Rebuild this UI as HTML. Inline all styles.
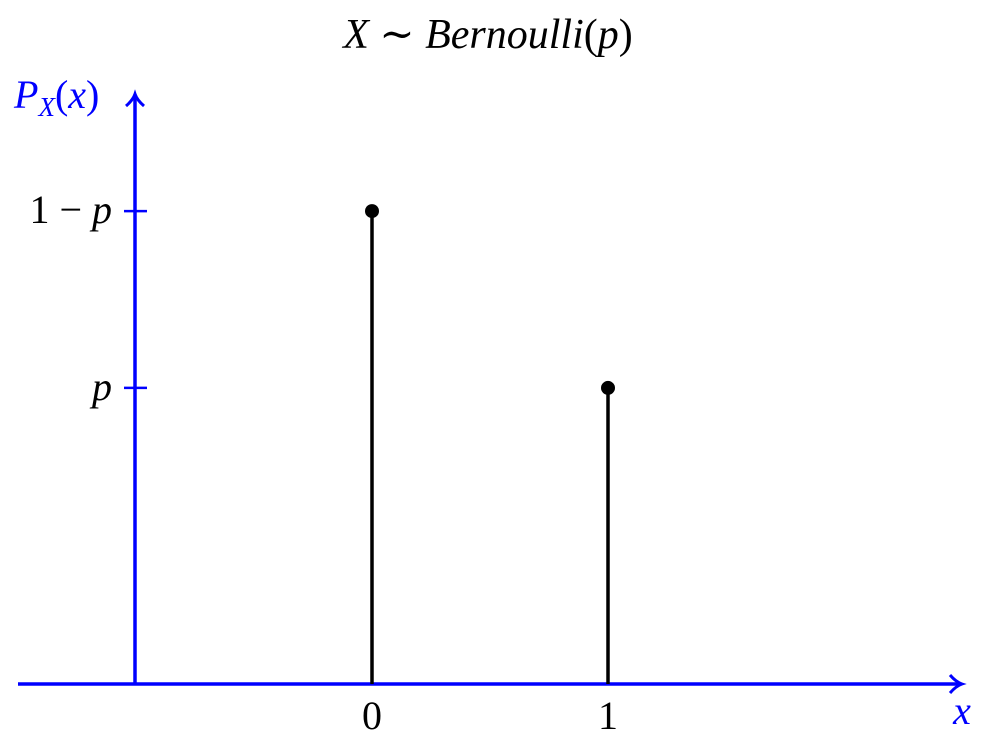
<!DOCTYPE html>
<html><head><meta charset="utf-8"><style>
html,body{margin:0;padding:0;background:#fff;}
svg text{font-family:"Liberation Serif","DejaVu Serif",serif;}
</style></head><body>
<svg width="988" height="741" viewBox="0 0 988 741">
<text x="488" y="48" text-anchor="middle" font-size="42" font-style="italic">X <tspan font-style="normal">∼</tspan> Bernoulli<tspan font-style="normal">(</tspan>p<tspan font-style="normal">)</tspan></text>
<g id="axes"></g>
<g id="marks"></g>
</svg>
<script>
const categories = [0, 1];
const probabilities = [0.615, 0.385];
const tickValues = [0.615, 0.385];
const tickLabels = ["1 − p", "p"];
const xTickLabels = ["0", "1"];

const NS = "http://www.w3.org/2000/svg";
function xs(v){ return 372 + v*236; }
function ys(v){ return 684 - v*769; }
function mk(tag, attrs, parent){
  const e = document.createElementNS(NS, tag);
  for (const k in attrs) e.setAttribute(k, attrs[k]);
  parent.appendChild(e); return e;
}
const axes = document.getElementById('axes');
const marks = document.getElementById('marks');
const blue = "#0000ff";

const xa = mk('line',{x1:18,y1:684,x2:960,y2:684,stroke:blue,'stroke-width':3.5},axes);


const xh = mk('path',{d:'M950 675 Q956 682 962 684 Q956 686 950 693',fill:'none',stroke:blue,'stroke-width':3},axes);


const ya = mk('line',{x1:135,y1:684,x2:135,y2:96,stroke:blue,'stroke-width':3.5},axes);


const yh = mk('path',{d:'M126 106 Q133 100 135 94 Q137 100 144 106',fill:'none',stroke:blue,'stroke-width':3},axes);



const yt = mk('text',{x:14,y:108,'font-size':40,fill:blue,'font-style':'italic'},axes);
yt.innerHTML = 'P<tspan font-size="27" dy="8">X</tspan><tspan dy="-8" font-style="normal">(</tspan>x<tspan font-style="normal">)</tspan>';


const xt = mk('text',{x:962,y:724,'font-size':40,fill:blue,'font-style':'italic','text-anchor':'middle'},axes);
xt.textContent = 'x';



tickValues.forEach((v,i)=>{
  const t = mk('line',{x1:124,y1:ys(v),x2:147,y2:ys(v),stroke:blue,'stroke-width':2.5},axes);
  
  
  const l = mk('text',{x:112,y:ys(v)+12,'font-size':40,'text-anchor':'end'},axes);
  l.innerHTML = tickLabels[i].replace('p','<tspan font-style="italic">p</tspan>');
  
  
});
categories.forEach((c,i)=>{
  const l = mk('text',{x:xs(c),y:729,'font-size':40,'text-anchor':'middle'},axes);
  l.textContent = xTickLabels[i];
  
  
  const s = mk('line',{x1:xs(c),y1:684,x2:xs(c),y2:ys(probabilities[i]),stroke:'#000','stroke-width':3.5},marks);
  
  
  const d = mk('circle',{cx:xs(c),cy:ys(probabilities[i]),r:7,fill:'#000'},marks);
  
  
});
</script>
</body></html>
